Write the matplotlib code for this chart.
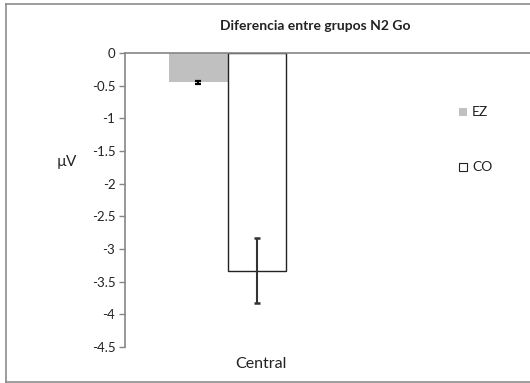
import matplotlib
matplotlib.use("Agg")
import matplotlib.pyplot as plt
from matplotlib.lines import Line2D
from matplotlib.patches import Rectangle

# ---- data ----
categories = ["Central"]
series_names = ["EZ", "CO"]
ez_values = [-0.45]
co_values = [-3.33]
ez_errors = [0.023]
co_errors = [0.5]
y_ticks = [0, -0.5, -1, -1.5, -2, -2.5, -3, -3.5, -4, -4.5]
y_tick_labels = ["0", "-0.5", "-1", "-1.5", "-2", "-2.5", "-3", "-3.5", "-4", "-4.5"]
title = "Diferencia entre grupos N2 Go"
y_label = "µV"

plt.rcParams['font.family'] = ['Lato', 'DejaVu Sans']

W, H = 530, 383
fig = plt.figure(figsize=(W / 100, H / 100), dpi=100)

# axes in pixel coordinates
ax_left, ax_right = 125, 531
ax_top, ax_bottom = 53, 347
ax = fig.add_axes([ax_left / W, 1 - ax_bottom / H, (ax_right - ax_left) / W, (ax_bottom - ax_top) / H])

px_per_unit = 200.0
group_center_px = 227.5
x_lo = -(group_center_px - ax_left) / px_per_unit
x_hi = x_lo + (ax_right - ax_left) / px_per_unit
bar_w = 58.5 / px_per_unit

gray = "#868686"
ax.bar([-bar_w / 2], ez_values, width=bar_w, color="#c0c0c0", edgecolor="none", zorder=2)
ax.bar([bar_w / 2], co_values, width=bar_w, color="white", edgecolor="#222222", linewidth=1.0, zorder=2)
ax.errorbar([-bar_w / 2], ez_values, yerr=ez_errors, fmt="none", ecolor="black",
            elinewidth=1.4, capsize=2.2, capthick=1.6, zorder=3)
ax.errorbar([bar_w / 2], co_values, yerr=co_errors, fmt="none", ecolor="#333333",
            elinewidth=1.5, capsize=2.2, capthick=1.8, zorder=3)

ax.set_xlim(x_lo, x_hi)
ax.set_ylim(-4.5, 0)
ax.set_yticks(y_ticks)
ax.set_yticklabels(y_tick_labels, fontsize=9.5, color="#222222")
ax.tick_params(axis="y", direction="out", length=4, color=gray, width=1, pad=3)
label_px = 261
ax.set_xticks([(label_px - group_center_px) / px_per_unit])
ax.set_xticklabels(categories, fontsize=11.5, color="#222222")
ax.tick_params(axis="x", length=0, pad=7)

for s in ["right", "bottom"]:
    ax.spines[s].set_visible(False)
ax.spines["left"].set_color(gray)
ax.spines["left"].set_linewidth(1.2)
ax.spines["top"].set_color(gray)
ax.spines["top"].set_linewidth(1.2)
ax.set_facecolor("none")

fig.text(57 / W, 1 - 162 / H, y_label, fontsize=11, color="#222222", va="center", ha="left")
fig.text(315 / W, 1 - 26 / H, title, fontsize=10, fontweight="bold", color="#222222",
         ha="center", va="center")

# legend
sq = 8
fig.patches.append(Rectangle((459 / W, 1 - 116 / H), sq / W, sq / H, transform=fig.transFigure,
                             facecolor="#c0c0c0", edgecolor="none", figure=fig))
fig.patches.append(Rectangle((459 / W, 1 - 171 / H), sq / W, sq / H, transform=fig.transFigure,
                             facecolor="white", edgecolor="#222222", linewidth=0.8, figure=fig))
fig.text(472 / W, 1 - 112 / H, series_names[0], fontsize=10, color="#222222", va="center", ha="left")
fig.text(472 / W, 1 - 167 / H, series_names[1], fontsize=10, color="#222222", va="center", ha="left")

# outer chart border (right edge is off the image)
bc = "#8c8c8c"
fig.add_artist(Line2D([6 / W, 6 / W], [1 - 4 / H, 1 - 382 / H], transform=fig.transFigure, color=bc, lw=1.2))
fig.add_artist(Line2D([6 / W, 1.0], [1 - 4 / H, 1 - 4 / H], transform=fig.transFigure, color=bc, lw=1.2))
fig.add_artist(Line2D([6 / W, 1.0], [1 - 382 / H, 1 - 382 / H], transform=fig.transFigure, color=bc, lw=1.2))

fig.savefig("out.png", dpi=100)
